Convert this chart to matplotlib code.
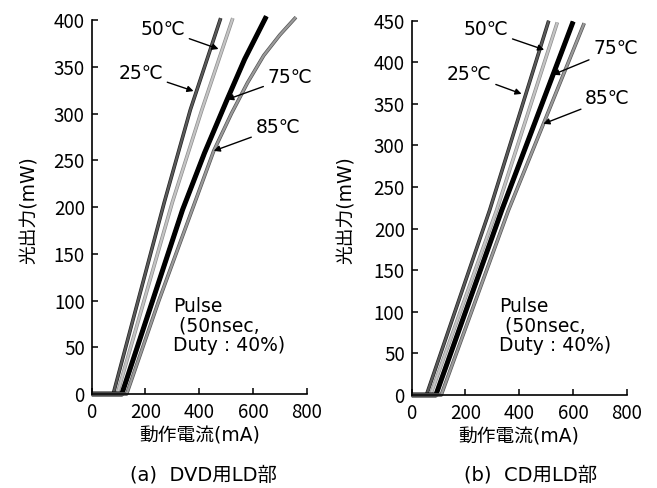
import matplotlib
matplotlib.use('Agg')
import matplotlib.pyplot as plt
import matplotlib.patheffects as pe

plt.rcParams['font.family'] = ['DejaVu Sans', 'Noto Sans CJK JP']

# (a) DVD LD: operating current (mA) vs optical output (mW)
dvd_25_x = [0, 80, 270, 367, 480]
dvd_25_y = [0, 0, 205, 304, 402]
dvd_50_x = [0, 95, 300, 410, 525]
dvd_50_y = [0, 0, 205, 304, 402]
dvd_75_x = [0, 112, 338, 420, 504, 569, 650]
dvd_75_y = [0, 0, 197, 258, 315, 358, 404]
dvd_85_x = [0, 130, 250, 375, 454, 520, 580, 640, 700, 760]
dvd_85_y = [0, 0, 100, 198, 260, 300, 333, 362, 384, 403]

# (b) CD LD
cd_25_x = [0, 55, 290, 510]
cd_25_y = [0, 0, 222, 450]
cd_50_x = [0, 70, 316, 542]
cd_50_y = [0, 0, 222, 448]
cd_75_x = [0, 90, 335, 601]
cd_75_y = [0, 0, 222, 449]
cd_85_x = [0, 110, 360, 642]
cd_85_y = [0, 0, 222, 447]

temps = ['25℃', '50℃', '75℃', '85℃']

# label text position / arrow tip, per panel
dvd_labels = {'25℃': ((266, 343), (379, 324), 'right'),
              '50℃': ((348, 390), (472, 369), 'right'),
              '75℃': ((654, 339), (504, 315), 'left'),
              '85℃': ((609, 285), (454, 260), 'left')}
cd_labels = {'25℃': ((298, 385), (409, 362), 'right'),
             '50℃': ((360, 439), (493, 415), 'right'),
             '75℃': ((675, 416), (525, 385), 'left'),
             '85℃': ((645, 356), (490, 326), 'left')}

styles = {'25℃': dict(color='#5a5a5a', lw=1.6, edge='#222222'),
          '50℃': dict(color='#c4c4c4', lw=1.6, edge='#8c8c8c'),
          '75℃': dict(color='black', lw=2.6, edge='black'),
          '85℃': dict(color='#9a9a9a', lw=1.6, edge='#555555')}

fig = plt.figure(figsize=(6.57, 4.88), dpi=100)
ax1 = fig.add_axes([0.1396, 0.1926, 0.3272, 0.7664])
ax2 = fig.add_axes([0.6266, 0.1906, 0.3272, 0.767])


def draw(ax, xs, ys, labels, ymax, pulse_pos):
    for t, x, y in zip(temps, xs, ys):
        s = styles[t]
        ax.plot(x, y, color=s['color'], lw=s['lw'], clip_on=False,
                solid_capstyle='butt', solid_joinstyle='round',
                path_effects=[pe.Stroke(linewidth=s['lw'] + 1.0, foreground=s['edge']), pe.Normal()])
    for t in temps:
        txt, tip, ha = labels[t]
        ax.annotate(t, xy=tip, xytext=txt, ha=ha, va='center', fontsize=13.5,
                    arrowprops=dict(arrowstyle='-|>', color='black', lw=1.0,
                                    mutation_scale=9, shrinkA=1, shrinkB=0))
    ax.text(pulse_pos[0], pulse_pos[1], 'Pulse\n (50nsec,\nDuty : 40%)',
            ha='left', va='top', fontsize=13.5, linespacing=1.05)
    ax.set_xlim(0, 800)
    ax.set_ylim(0, ymax)
    ax.set_xticks(range(0, 801, 200))
    ax.set_yticks(range(0, ymax + 1, 50))
    ax.spines['top'].set_visible(False)
    ax.spines['right'].set_visible(False)
    ax.spines['left'].set_linewidth(1.2)
    ax.spines['bottom'].set_linewidth(1.2)
    ax.tick_params(direction='in', length=4, width=1.1, labelsize=13.5)
    ax.tick_params(axis='x', pad=6)
    ax.tick_params(axis='y', pad=5)
    for lab in ax.get_xticklabels() + ax.get_yticklabels():
        lab.set_family(['Noto Sans CJK JP', 'DejaVu Sans'])
    ax.set_xlabel('動作電流(mA)', fontsize=13.5, labelpad=2)


draw(ax1, [dvd_25_x, dvd_50_x, dvd_75_x, dvd_85_x],
     [dvd_25_y, dvd_50_y, dvd_75_y, dvd_85_y], dvd_labels, 400, (304, 104))
draw(ax2, [cd_25_x, cd_50_x, cd_75_x, cd_85_x],
     [cd_25_y, cd_50_y, cd_75_y, cd_85_y], cd_labels, 450, (326, 118))

fig.text(0.044, 0.57, '光出力(mW)', rotation=90, ha='center', va='center', fontsize=13.5)
fig.text(0.527, 0.57, '光出力(mW)', rotation=90, ha='center', va='center', fontsize=13.5)
fig.text(0.309, 0.027, '(a)  DVD用LD部', ha='center', va='center', fontsize=14)
fig.text(0.808, 0.027, '(b)  CD用LD部', ha='center', va='center', fontsize=14)

fig.savefig('out.png', dpi=100)
